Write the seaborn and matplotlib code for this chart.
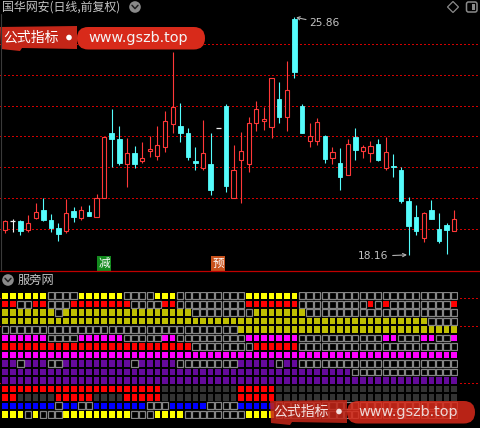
import numpy as np
import pandas as pd
import matplotlib
matplotlib.use("Agg")
import matplotlib.pyplot as plt
import seaborn as sns
from matplotlib.colors import ListedColormap
from matplotlib.patches import Rectangle, Circle, Polygon, FancyBboxPatch
from matplotlib.transforms import blended_transform_factory

# ---- daily bars (forward-adjusted) ----
open_ = [18.97, 19.26, 19.26, 18.97, 19.37, 19.62, 19.29, 19.04, 18.94, 19.58,
         19.37, 19.56, 19.40, 20.01, 22.12, 21.92, 21.10, 21.45, 21.22, 21.53,
         21.38, 21.65, 22.39, 22.34, 22.10, 21.22, 20.99, 21.11, 22.27, 22.99,
         20.00, 21.24, 21.10, 22.43, 22.51, 22.32, 23.22, 22.62, 25.80, 22.99,
         21.86, 21.86, 22.02, 21.31, 21.13, 20.76, 21.97, 21.54, 21.45, 21.76,
         20.99, 21.05, 20.91, 19.91, 19.40, 18.70, 19.62, 18.99, 19.13, 18.94]
high = [19.29, 19.32, 19.29, 19.45, 19.85, 20.00, 19.49, 19.20, 19.96, 19.72,
        19.76, 19.79, 20.13, 21.97, 22.89, 22.34, 21.96, 21.69, 21.83, 22.00,
        22.34, 22.83, 24.74, 23.08, 22.27, 21.65, 22.53, 22.12, 22.27, 23.05,
        21.72, 22.16, 22.62, 23.15, 22.97, 23.89, 23.76, 24.45, 25.86, 23.05,
        22.43, 22.59, 22.05, 21.65, 21.62, 21.92, 22.27, 21.72, 21.85, 21.92,
        21.98, 21.43, 21.00, 20.03, 19.78, 19.56, 19.94, 19.53, 19.18, 19.62]
low = [18.87, 18.90, 18.80, 18.90, 19.32, 19.27, 18.91, 18.62, 18.88, 19.24,
       19.29, 19.43, 19.40, 20.00, 21.02, 21.08, 20.35, 20.99, 21.13, 21.35,
       21.24, 21.49, 22.12, 21.83, 21.24, 20.91, 20.91, 20.10, 22.27, 20.21,
       20.00, 19.84, 20.86, 22.19, 22.21, 21.94, 22.43, 22.19, 23.91, 22.12,
       21.67, 21.72, 21.15, 21.11, 20.26, 20.76, 21.24, 21.31, 21.18, 21.21,
       20.91, 20.68, 19.83, 18.16, 18.80, 18.59, 19.32, 18.54, 18.20, 18.94]
close = [19.26, 19.26, 18.93, 19.18, 19.54, 19.29, 19.04, 18.83, 19.51, 19.38,
         19.62, 19.43, 20.00, 21.97, 21.92, 21.15, 21.48, 21.12, 21.29, 21.59,
         21.72, 22.50, 22.95, 22.12, 21.35, 21.15, 21.45, 20.26, 22.27, 20.40,
         20.91, 21.54, 22.43, 22.88, 22.56, 23.89, 22.64, 23.51, 24.10, 22.12,
         22.02, 22.46, 21.27, 21.49, 20.68, 21.75, 21.56, 21.65, 21.69, 21.24,
         21.50, 21.01, 19.91, 19.11, 18.93, 19.53, 19.32, 18.60, 18.97, 19.31]

price_levels = [19, 20, 21, 22, 23, 24, 25]
signal_days = [13, 28]
signal_text = ["减", "预"]
signal_colors = ["#138a1e", "#c8521c"]

# ---- 服旁网 indicator rows: 1 = condition met on that day ----
row_flags = [
    "111111 0000 111111 0000 111 000000000 1111111 0000000000 0000000000 0",
    "11 00 11 000 11111111 0000 11 000000000 1111111 000000000 1 0 1 00000000 1",
    "1111111 0 1111111111 1111111 00000000 1111111 0000000000 0000000000",
    "1111111111 1111111111 1111111111 1111111111 1111111111 111111 0000",
    "0000000000 0000000000 0000000000 0 1111111111 1111111111 111111111",
    "111111 0000 111111 00000 11 000000000 1111111 0000000000 0 11 000 11 00 1",
    "1111111111 1111111111 11111 00000000 111111 0000000000 0000000000 0",
    "1111111111 1111111111 1111111111 1111111111 1111111111 1111111111",
    "11 0 111 00 111111111 0 11111 00000000 11111 0 11 0000000000 0000000000 0",
    "1111111111 1111111111 1111111111 1111111111 111111 0000000000 0000",
    "1111111111 1111111111 1111111111 1111111111 1111111111 1111111111",
    "1111111111 1111111111 1 0000000000 11111 0000000000 0000000000 0000",
    "11 00000 11111 0000 11111 0000000000 11111 0000000000 0000000000 0000",
    "1111111 0 11 00 1111111 000 11111 0000 11111 0000000000 0000000000 0000",
    "111 0 1 000 111111111 000 1111 00000000 1111 0000000000 0000000000 0000",
]
row_colors = ["#FFFF00", "#FF0000", "#BFBF00", "#BFBF00", "#BFBF00",
              "#FF00FF", "#FF0000", "#FF00FF", "#650A9C", "#650A9C",
              "#650A9C", "#FF0000", "#FF0000", "#0000FF", "#FFFF00"]
row_off = ["hollow"] * 11 + ["#333333", "#333333", "hollow", "hollow"]

# ---- styling ----
sns.set_theme(style="dark", rc={"figure.facecolor": "black", "axes.facecolor": "black",
                                "savefig.facecolor": "black"})
plt.rcParams["font.family"] = ["Noto Sans CJK SC", "DejaVu Sans"]

UP = "#FF3838"
DOWN = "#55FCFC"
FLAT = "#F0F0F0"
GRID_RED = "#D00000"
TXT = "#C4C4C4"
DOT = (0, (0.75, 1.95))

W, H = 480, 428
fig = plt.figure(figsize=(W / 100, H / 100), dpi=100, facecolor="black")


def frac(x0, y0, x1, y1):
    return [x0 / W, 1 - y1 / H, (x1 - x0) / W, (y1 - y0) / H]


def dotted(axis, y):
    axis.axhline(y, color=GRID_RED, ls=DOT, lw=1.0, antialiased=False, zorder=0)


# bottom panel backdrop with its level lines
ax_bot = fig.add_axes(frac(0, 271, 480, 428))
ax_bot.set_xlim(0, 480)
ax_bot.set_ylim(428, 271)
ax_bot.axis("off")
for yl in [298, 326.5, 383]:
    dotted(ax_bot, yl)

# ---- price panel ----
ax = fig.add_axes(frac(0, 0, 480, 270))
ax.set_xlim(-0.683, 62.39)
ax.set_ylim(17.6695, 26.4272)
ax.axis("off")

for lv in price_levels:
    dotted(ax, lv)

df = pd.DataFrame({"open": open_, "high": high, "low": low, "close": close})
df["x"] = np.arange(len(df))
df["color"] = np.where(df.close > df.open, UP, np.where(df.close < df.open, DOWN, FLAT))

ax.vlines(df.x, df.low, df.high, colors=df.color, lw=0.8, zorder=1)
up = df[df.close > df.open]
dn = df[df.close < df.open]
fl = df[df.close == df.open]
ax.bar(up.x, up.close - up.open, bottom=up.open, width=0.55, facecolor="black",
       edgecolor=UP, lw=0.8, zorder=2)
ax.bar(dn.x, dn.open - dn.close, bottom=dn.close, width=0.6, facecolor=DOWN,
       edgecolor=DOWN, lw=0.6, zorder=2)
ax.hlines(fl.open, fl.x - 0.32, fl.x + 0.32, colors=FLAT, lw=0.9, zorder=2)

imax = int(np.argmax(high))
imin = int(np.argmin(low))
ax.annotate(f"{high[imax]:.2f}", xy=(imax + 0.25, high[imax]), xytext=(13, -6),
            textcoords="offset pixels", ha="left", va="center", color=TXT,
            fontsize=7.7, family="DejaVu Sans",
            arrowprops=dict(arrowstyle="->,head_length=0.25,head_width=0.15",
                            color="#B0B0B0", lw=0.8, shrinkA=0, shrinkB=0))
ax.annotate(f"{low[imin]:.2f}", xy=(imin - 0.2, low[imin]), xytext=(-19, -1.5),
            textcoords="offset pixels", ha="right", va="center", color=TXT,
            fontsize=7.7, family="DejaVu Sans",
            arrowprops=dict(arrowstyle="->,head_length=0.3,head_width=0.15",
                            color="#B0B0B0", lw=0.8, shrinkA=1, shrinkB=0))

trans = blended_transform_factory(ax.transData, ax.transAxes)
for d, t, c in zip(signal_days, signal_text, signal_colors):
    ax.text(d, 0.024, t, transform=trans, ha="center", va="center", color="white",
            fontsize=8.3, bbox=dict(boxstyle="square,pad=0.1", fc=c, ec="none"))

# ---- indicator grid ----
palette = ["#000000"]
for c in row_colors + row_off:
    if c != "hollow" and c not in palette:
        palette.append(c)
n_rows, n_cols = len(row_flags), len(open_)
codes = np.zeros((n_rows, n_cols), dtype=int)
for r, (flags, on, off) in enumerate(zip(row_flags, row_colors, row_off)):
    flags = flags.replace(" ", "").ljust(n_cols, "0")[:n_cols]
    for c, f in enumerate(flags):
        if f == "1":
            codes[r, c] = palette.index(on)
        elif off != "hollow":
            codes[r, c] = palette.index(off)

ax_grid = fig.add_axes(frac(1.4, 291.5, 458.0, 418.5))
sns.heatmap(pd.DataFrame(codes), cmap=ListedColormap(palette), vmin=-0.5,
            vmax=len(palette) - 0.5, cbar=False, linewidths=1.3, linecolor="black",
            xticklabels=False, yticklabels=False, ax=ax_grid)
for r in range(n_rows):
    if row_off[r] != "hollow":
        continue
    for c in np.where(codes[r] == 0)[0]:
        ax_grid.add_patch(Rectangle((c + 0.08, r + 0.1), 0.84, 0.8, fill=False,
                                    ec="#858585", lw=0.9))
ax_grid.axis("off")

# ---- frame, captions and banners ----
ax_d = fig.add_axes([0, 0, 1, 1], zorder=5)
ax_d.set_xlim(0, W)
ax_d.set_ylim(H, 0)
ax_d.axis("off")
ax_d.patch.set_alpha(0)

ax_d.plot([0, W], [270.5, 270.5], color="#C00000", lw=0.9)
ax_d.plot([0.5, 0.5], [14, 270], color="#3A3A3A", lw=0.8)

ax_d.text(2, 7, "国华网安(日线,前复权)", color=TXT, fontsize=8.6, va="center", ha="left")
ax_d.add_patch(Circle((135, 7), 5.8, fc="#8A8A8A", ec="none"))
ax_d.plot([132, 135, 138], [5.3, 8.6, 5.3], color="#202020", lw=1.1)

ax_d.add_patch(Circle((8, 280), 5.8, fc="#8A8A8A", ec="none"))
ax_d.plot([5, 8, 11], [278.3, 281.6, 278.3], color="#202020", lw=1.1)
ax_d.text(18, 280, "服旁网", color=TXT, fontsize=8.8, va="center", ha="left")

ax_d.add_patch(Polygon([(453, 1.5), (458.5, 7), (453, 12.5), (447.5, 7)], closed=True,
                       fill=False, ec="#8A8A8A", lw=0.9))
ax_d.add_patch(FancyBboxPatch((466.5, 2), 10.5, 10, boxstyle="round,pad=0,rounding_size=2",
                              fill=False, ec="#8A8A8A", lw=1.1))
ax_d.add_patch(Rectangle((472, 4), 3, 6, fc="#8A8A8A", ec="none"))


def banner(x0, y0, alpha):
    ax_d.add_patch(Polygon([(x0, y0 + 1), (x0 + 77, y0), (x0 + 77, y0 + 23),
                            (x0 + 22, y0 + 22), (x0 + 20, y0 + 25), (x0 + 1, y0 + 23)],
                           closed=True, fc="#C42618", ec="none", alpha=alpha))
    ax_d.add_patch(FancyBboxPatch((x0 + 77, y0 + 1), 128, 22.5,
                                  boxstyle="round,pad=0,rounding_size=11.2",
                                  fc="#D82A1A", ec="none", alpha=alpha))
    ax_d.add_patch(Circle((x0 + 69, y0 + 11.5), 2.8, fc="white", ec="none", alpha=alpha))
    ax_d.text(x0 + 3, y0 + 11.5, "公式指标", color="white", fontsize=10,
              va="center", ha="left", alpha=alpha)
    ax_d.text(x0 + 88, y0 + 12, "www.gszb.top", color="#F4F4F4", fontsize=10.4,
              family="DejaVu Sans", va="center", ha="left", alpha=alpha)


banner(0, 26, 1.0)
banner(270, 400, 0.86)

fig.savefig("out.png", dpi=100, facecolor="black")
